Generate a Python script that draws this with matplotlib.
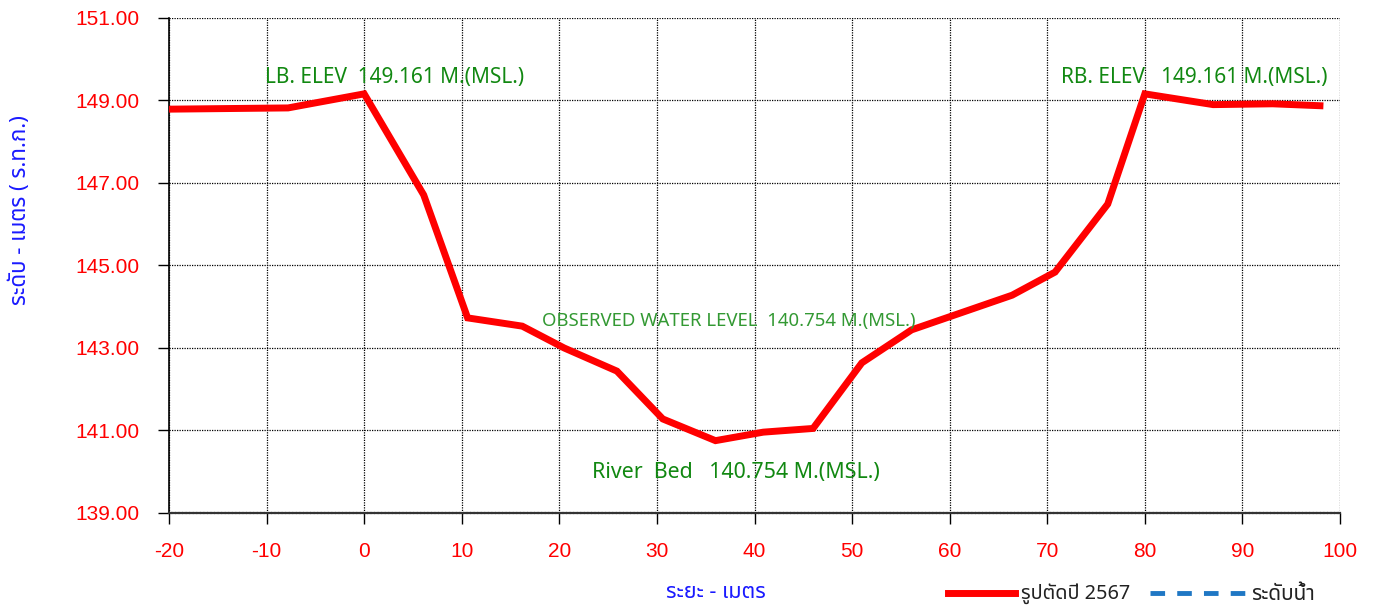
import matplotlib
matplotlib.use("Agg")
import matplotlib.pyplot as plt
from matplotlib import font_manager
from matplotlib.ft2font import FT2Font
from matplotlib.lines import Line2D

# ---------------- data ----------------
distance = [-20.0, -7.8, 0.0, 6.1, 10.6, 16.2, 20.5, 25.9, 30.6, 36.0, 40.9, 46.0,
            51.0, 56.1, 66.4, 70.8, 76.2, 80.0, 87.0, 93.1, 98.3]
elevation = [148.79, 148.82, 149.161, 146.71, 143.73, 143.53, 143.00, 142.44, 141.28,
             140.754, 140.96, 141.05, 142.64, 143.44, 144.28, 144.84, 146.49, 149.161,
             148.90, 148.92, 148.87]
x_ticks = [-20, -10, 0, 10, 20, 30, 40, 50, 60, 70, 80, 90, 100]
y_ticks = [139, 141, 143, 145, 147, 149, 151]
lb_label = "LB. ELEV  149.161 M.(MSL.)"
rb_label = "RB. ELEV   149.161 M.(MSL.)"
wl_label = "OBSERVED WATER LEVEL  140.754 M.(MSL.)"
bed_label = "River  Bed   140.754 M.(MSL.)"
x_title = "ระยะ - เมตร"
y_title = "ระดับ - เมตร ( ร.ท.ก.)"
legend_section = "รูปตัดปี 2567"
legend_water = "ระดับน้ำ"

# ---------------- find a Thai-capable font ----------------
thai_font = None
preferred = []
for f in font_manager.fontManager.ttflist:
    try:
        ft = FT2Font(f.fname)
        cmap = ft.get_charmap()
        if 0x0E23 in cmap and 0x0E49 in cmap:
            preferred.append(f.name)
    except Exception:
        pass
for cand in ["Tahoma", "Leelawadee UI", "Noto Sans Thai", "Noto Sans Thai UI", "Loma",
             "Garuda", "Norasi", "Sarabun", "Kinnari"]:
    if cand in preferred:
        thai_font = cand
        break
if thai_font is None and preferred:
    thai_font = preferred[0]
thai_family = [thai_font, "DejaVu Sans"] if thai_font else ["DejaVu Sans"]

plt.rcParams['font.family'] = ["Liberation Sans", "DejaVu Sans"]

fig = plt.figure(figsize=(13.73, 6.10), dpi=100)
ax = fig.add_axes([169/1373, 1 - 513/610, (1340 - 169)/1373, (513 - 18)/610])

ax.plot(distance, elevation, color="#ff0000", lw=5, solid_joinstyle="miter",
        solid_capstyle="butt", zorder=3)

ax.set_xlim(-20, 100)
ax.set_ylim(139, 151)
ax.set_xticks(x_ticks)
ax.set_yticks(y_ticks)
ax.set_xticklabels([str(v) for v in x_ticks])
ax.set_yticklabels([f"{v:.2f}" for v in y_ticks])
ax.tick_params(axis="both", colors="black", labelcolor="#ff0000", labelsize=15,
               length=8, width=1, direction="out")
ax.tick_params(axis="x", pad=13)
ax.tick_params(axis="y", pad=13)

ax.grid(True, color="black", linestyle=(0, (1, 1)), linewidth=0.9, zorder=1)
ax.set_axisbelow(True)
for s in ["top", "right"]:
    ax.spines[s].set_visible(False)
ax.spines["left"].set_color("black")
ax.spines["left"].set_linewidth(1.2)
ax.spines["bottom"].set_color("#333333")
ax.spines["bottom"].set_linewidth(1.6)
ax.spines["bottom"].set_linestyle((0, (1, 0.6)))

green = "#118811"
ann_font = ["Noto Sans", "DejaVu Sans"]
ax.text(-10.2, 149.55, lb_label, color=green, fontsize=15, family=ann_font, ha="left", va="center")
ax.text(71.4, 149.55, rb_label, color=green, fontsize=15, family=ann_font, ha="left", va="center")
ax.text(18.2, 143.66, wl_label, color="#339933", fontsize=13.4, family=ann_font, ha="left", va="center")
ax.text(23.3, 139.98, bed_label, color=green, fontsize=15.4, family=ann_font, ha="left", va="center")

fig.text(716/1373, 1 - 593/610, x_title, color="#1a1aff", fontsize=15.5, family=thai_family,
         ha="center", va="center")
fig.text(20/1373, 1 - 210/610, y_title, color="#1a1aff", fontsize=16, family=thai_family,
         ha="center", va="center", rotation=90)

# legend drawn in figure coordinates
fig.add_artist(Line2D([948/1373, 1015/1373], [1 - 593/610, 1 - 593/610], color="#ff0000", lw=5))
fig.text(1021/1373, 1 - 594/610, legend_section, color="#222222", fontsize=14.3, family=thai_family,
         ha="left", va="center")
fig.add_artist(Line2D([1150/1373, 1248/1373], [1 - 593/610, 1 - 593/610], color="#1f77c4", lw=3.5,
                      linestyle=(0, (3, 2.5))))
fig.text(1251/1373, 1 - 594/610, legend_water, color="#222222", fontsize=15, family=thai_family,
         ha="left", va="center")

fig.savefig("out.png", dpi=100, facecolor="white")
